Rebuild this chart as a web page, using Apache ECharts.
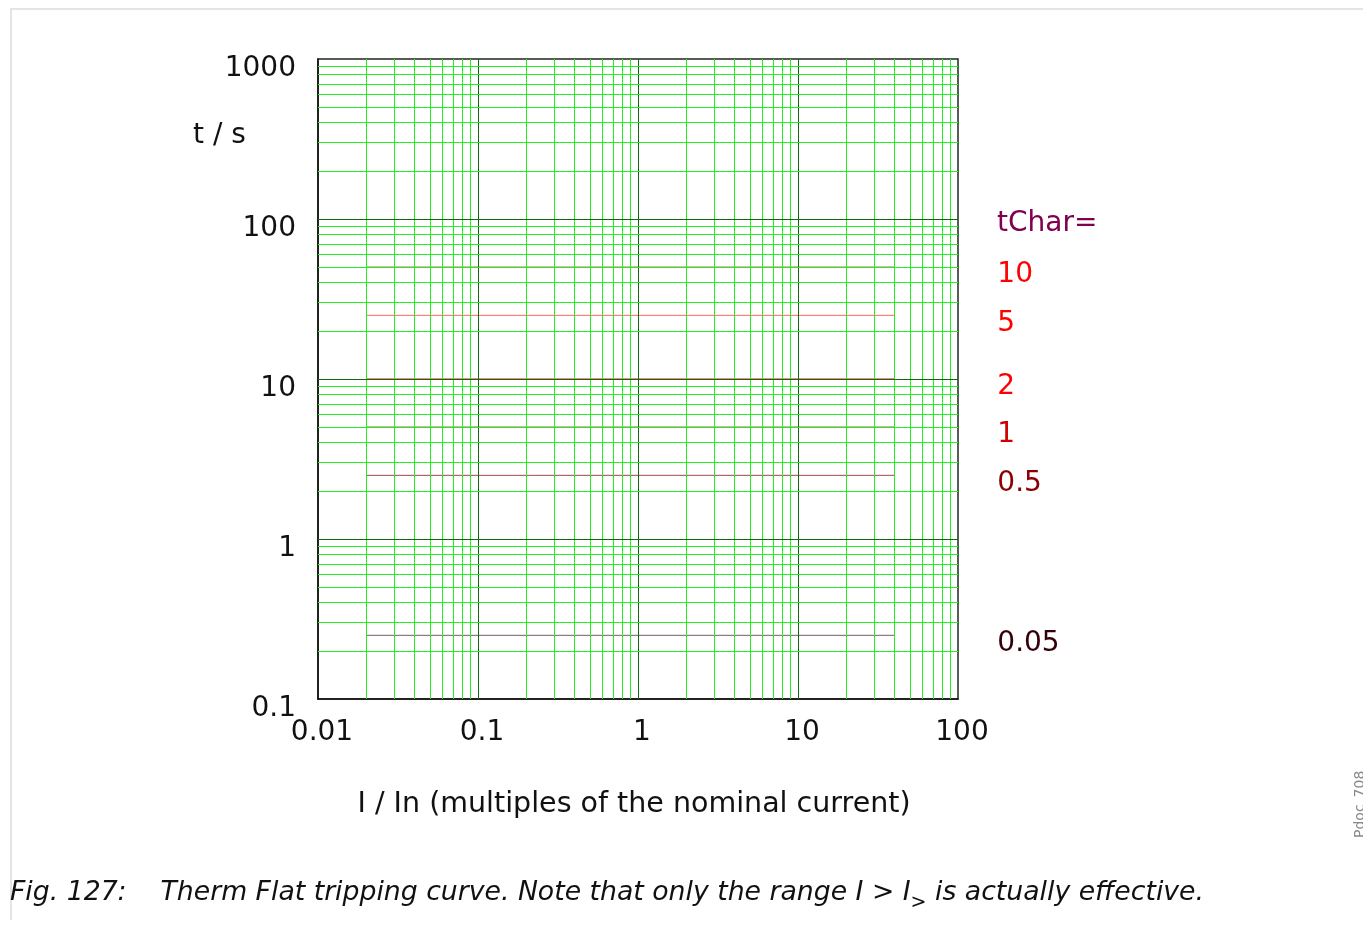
<!DOCTYPE html>
<html>
<head>
<meta charset="utf-8">
<script src="https://cdn.jsdelivr.net/npm/echarts@6/dist/echarts.min.js"></script>
<style>
    html, body { margin: 0; padding: 0; background: #fff; }
    #main { width: 1363px; height: 940px; }
</style>
</head>
<body>
<div id="main"></div>
<script>
// decades shown on the axes
var xDecades = [0.01, 0.1, 1, 10, 100];
var yDecades = [0.1, 1, 10, 100, 1000];
// minor grid lines inside each decade
var minorMult = [2, 3, 4, 5, 6, 7, 8, 9];

// tripping curves: tChar setting -> flat trip time
var tCharNames = ['10', '5', '2', '1', '0.5', '0.05'];
var tripTimes = [50, 25, 10, 5, 2.5, 0.25];
var currentRange = [0.02, 40];

var lineColors = ['#d01414', '#ff6464', '#ff0000', '#8e1400', '#a04848', '#786060'];
var labelColors = ['#ff0000', '#ff0000', '#ff0000', '#cc0000', '#880000', '#330008'];

var FONT = 'DejaVu Sans';

function gridLines(decades, axisKey) {
    var out = [];
    for (var i = 0; i < decades.length - 1; i++) {
        minorMult.forEach(function (m) {
            var item = { lineStyle: { color: '#22ee22', width: 1, type: 'solid', opacity: 1 } };
            item[axisKey] = +(decades[i] * m).toPrecision(6);
            out.push(item);
        });
        if (i > 0) {
            var major = { lineStyle: { color: '#0d6a0d', width: 1, type: 'solid', opacity: 1 } };
            major[axisKey] = decades[i];
            out.push(major);
        }
    }
    return out;
}

var chart = echarts.init(document.getElementById('main'));

var series = [{
    type: 'line',
    data: [],
    silent: true,
    z: 1,
    markLine: {
        silent: true,
        symbol: 'none',
        animation: false,
        label: { show: false },
        emphasis: { disabled: true },
        data: gridLines(xDecades, 'xAxis').concat(gridLines(yDecades, 'yAxis'))
    }
}];

tCharNames.forEach(function (name, i) {
    series.push({
        name: name,
        type: 'line',
        z: 3,
        symbol: 'none',
        silent: true,
        animation: false,
        lineStyle: { color: lineColors[i], width: 1 },
        data: [[currentRange[0], tripTimes[i]], [currentRange[1], tripTimes[i]]],
        endLabel: {
            show: true,
            formatter: name,
            offset: [95, 8],
            color: labelColors[i],
            fontFamily: FONT,
            fontSize: 28
        }
    });
});

chart.setOption({
    animation: false,
    backgroundColor: '#fff',
    grid: {
        left: 318,
        top: 59,
        width: 640,
        height: 640,
        show: true,
        borderColor: '#1a2a1a',
        borderWidth: 1.5,
        backgroundColor: 'transparent'
    },
    xAxis: {
        type: 'log',
        logBase: 10,
        min: xDecades[0],
        max: xDecades[xDecades.length - 1],
        axisLine: { show: true, lineStyle: { color: '#111', width: 1.5 } },
        axisTick: { show: false },
        splitLine: { show: false },
        minorSplitLine: { show: false },
        axisLabel: {
            margin: 20,
            formatter: function (v) { return '{v|' + v + '}'; },
            rich: {
                v: { color: '#111', fontFamily: FONT, fontSize: 28, padding: [0, 0, 0, 8] }
            }
        }
    },
    yAxis: {
        type: 'log',
        logBase: 10,
        min: yDecades[0],
        max: yDecades[yDecades.length - 1],
        axisLine: { show: true, lineStyle: { color: '#111', width: 1.5 } },
        axisTick: { show: false },
        splitLine: { show: false },
        axisLabel: {
            margin: 22,
            formatter: function (v) { return '{v|' + v + '}'; },
            rich: {
                v: { color: '#111', fontFamily: FONT, fontSize: 28, padding: [20, 0, 0, 0] }
            }
        }
    },
    series: series,
    graphic: [
        { type: 'line', shape: { x1: 10, y1: 9, x2: 1363, y2: 9 }, style: { stroke: '#e4e4e4', lineWidth: 2 } },
        { type: 'line', shape: { x1: 11, y1: 8, x2: 11, y2: 920 }, style: { stroke: '#e4e4e4', lineWidth: 2 } },
        {
            type: 'text', left: 193, top: 122,
            style: { text: 't / s', fontFamily: FONT, fontSize: 28, fill: '#111' }
        },
        {
            type: 'text', left: 997, top: 210,
            style: { text: 'tChar=', fontFamily: FONT, fontSize: 28, fill: '#800050' }
        },
        {
            type: 'text', x: 634, y: 805,
            style: {
                text: 'I / In (multiples of the nominal current)',
                fontFamily: FONT, fontSize: 28.5, fill: '#111',
                align: 'center', verticalAlign: 'middle'
            }
        },
        {
            type: 'text', x: 1360, y: 838, rotation: Math.PI / 2,
            style: {
                text: 'Pdoc_708', fontFamily: FONT, fontSize: 14, fill: '#888',
                align: 'left', verticalAlign: 'middle'
            }
        },
        {
            type: 'text', left: 10, top: 880,
            style: {
                text: '{a|Fig. 127:    Therm Flat tripping curve. Note that only the range I > I}{s|>}{a| is actually effective.}',
                rich: {
                    a: { fontFamily: FONT, fontStyle: 'italic', fontSize: 26.7, fill: '#111', lineHeight: 34, verticalAlign: 'bottom' },
                    s: { fontFamily: FONT, fontStyle: 'italic', fontSize: 19, fill: '#111', lineHeight: 34, verticalAlign: 'bottom', padding: [0, 0, -6, 0] }
                }
            }
        }
    ]
});
</script>
</body>
</html>
